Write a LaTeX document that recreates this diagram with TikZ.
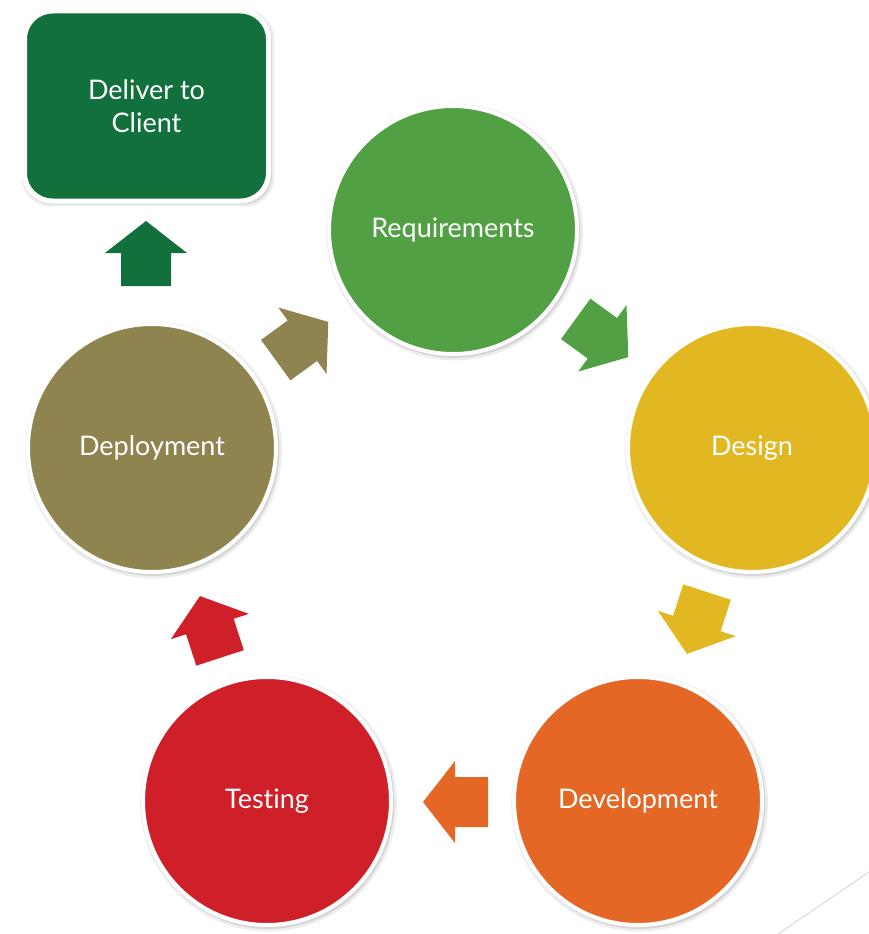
\documentclass[tikz,border=0pt]{standalone}
\usepackage{fontspec}
\setmainfont{Lato}[Ligatures={NoCommon}]
\usetikzlibrary{shadows}
\definecolor{cDeliver}{HTML}{11703C}
\definecolor{cReq}{HTML}{52A044}
\definecolor{cDes}{HTML}{E2B822}
\definecolor{cDev}{HTML}{E46725}
\definecolor{cTest}{HTML}{CF2029}
\definecolor{cDep}{HTML}{8F8350}
\tikzset{
  softshadow/.style={
    general shadow={fill=black, opacity=0.07, shadow scale=1.035, shadow xshift=1.5pt, shadow yshift=-2pt},
    general shadow={fill=black, opacity=0.10, shadow scale=1.015, shadow xshift=1.5pt, shadow yshift=-2pt}},
  phase/.style={circle, draw=white, line width=4pt, minimum size=248pt, inner sep=0pt,
    text=white, font=\fontsize{27}{32}\selectfont, softshadow},
  deliverbox/.style={rectangle, rounded corners=28pt, draw=white, line width=5pt,
    minimum width=244pt, minimum height=190pt, text=white, align=center,
    font=\fontsize{27}{33}\selectfont, softshadow},
  blockarrow/.pic={
    \fill[pic actions] (-32.5,-25) -- (0.5,-25) -- (0.5,-41) -- (32.5,0) -- (0.5,41) -- (0.5,25) -- (-32.5,25) -- cycle;
  }
}
\begin{document}
\begin{tikzpicture}[x=1pt,y=-1pt]
\useasboundingbox (0,0) rectangle (869,934);
\node[deliverbox, fill=cDeliver] (deliver) at (146.5,106) {Deliver to\\Client};
\node[phase, fill=cReq]  (req)  at (453,230) {Requirements};
\node[phase, fill=cDes]  (des)  at (752,448) {Design};
\node[phase, fill=cDev]  (dev)  at (638,801) {Development};
\node[phase, fill=cTest] (test) at (267,801) {Testing};
\node[phase, fill=cDep]  (dep)  at (152,448) {Deployment};
\pic[fill=cReq,     rotate=-36]  (a1) at (602,338) {blockarrow};
\pic[fill=cDes,     rotate=-108] (a2) at (697,623) {blockarrow};
\pic[fill=cDev,     rotate=180]  (a3) at (455.5,802) {blockarrow};
\pic[fill=cTest,    rotate=108]  (a4) at (210,627) {blockarrow};
\pic[fill=cDep,     rotate=36]   (a5) at (302,341) {blockarrow};
\pic[fill=cDeliver, rotate=90]   (a6) at (146,253.5) {blockarrow};
\coordinate (l1) at (778,934);
\coordinate (l2) at (869,872);
\draw[black!15, line width=1pt] (l1) -- (l2);
\end{tikzpicture}
\end{document}
